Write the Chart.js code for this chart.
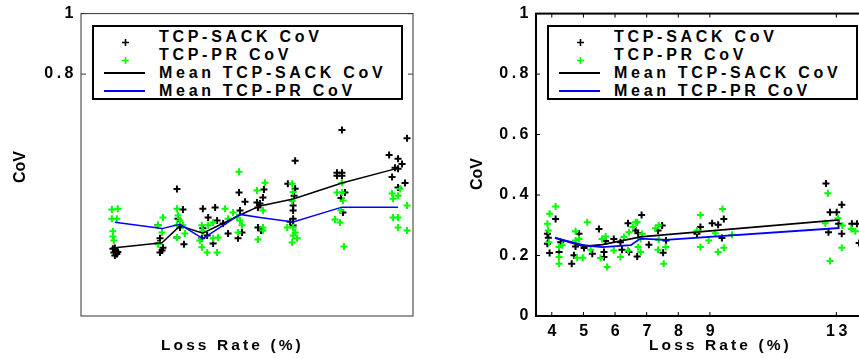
<!DOCTYPE html>
<html><head><meta charset="utf-8">
<script src="https://cdn.jsdelivr.net/npm/chart.js@4/dist/chart.umd.min.js"></script>
<style>
html,body{margin:0;padding:0;background:#fff;}
body{width:859px;height:358px;overflow:hidden;position:relative;font-family:"Liberation Sans",Arial,sans-serif;color:#000;}
.panel{position:absolute;top:0;width:430px;height:358px;}
.panel canvas{position:absolute;left:0;top:0;}
.legend{position:absolute;left:92px;top:25px;width:307px;height:71px;border:2px solid #000;background:#fff;}
.row{position:absolute;left:65px;height:16px;line-height:16px;font-weight:bold;font-size:16px;letter-spacing:3.7px;white-space:nowrap;}
.mk{position:absolute;left:27px;}
.ln{position:absolute;left:10px;width:41px;height:1.5px;}
.xt{position:absolute;top:337px;font-weight:bold;font-size:15.5px;line-height:15px;letter-spacing:3.1px;white-space:nowrap;}
.yt{position:absolute;font-weight:bold;font-size:16px;line-height:16px;white-space:nowrap;transform:translate(-50%,-50%) rotate(-90deg);}
</style>
</head><body>
<div class="panel" id="pL" style="left:0px"><canvas id="cL" width="430" height="358"></canvas></div>
<div class="panel" id="pR" style="left:455px"><canvas id="cR" width="430" height="358"></canvas></div>
<script>
// ---------- labels ----------
const seriesNames = ['TCP-SACK CoV','TCP-PR CoV','Mean TCP-SACK CoV','Mean TCP-PR CoV'];
const xTitle = 'Loss Rate (%)';
const yTitle = 'CoV';

// ---------- left panel (x axis unlabeled) ----------
const leftYTicks = [0.8, 1];
const leftSackX = [1.02,1.05,0.99,1.08,1.02,0.96,1.11, 2.32,2.38,2.32,2.44,2.38,2.47, 2.89,3.07,2.92,2.98,2.89,3.10, 3.67,4.04,3.83,4.10,3.67,3.80,3.98,3.64, 4.28,4.43,4.76,4.94,4.79,4.73,4.85, 5.51,5.48,5.39,5.33,5.33,5.30,5.42, 6.45,6.23,6.45,6.42,6.39,6.39,6.39,6.39,6.30, 7.86,7.71,7.86,7.71,7.86,7.95,7.89,7.83, 9.82,9.28,9.55,9.67,9.46,9.55,9.37,9.76,9.55];
const leftSackY = [0.225,0.215,0.21,0.205,0.20,0.222,0.212, 0.30,0.257,0.24,0.217,0.21,0.226, 0.42,0.352,0.322,0.293,0.26,0.237, 0.355,0.359,0.326,0.316,0.29,0.266,0.24,0.257, 0.306,0.273,0.408,0.378,0.349,0.257,0.276, 0.418,0.392,0.372,0.359,0.293,0.375,0.283, 0.513,0.437,0.421,0.398,0.365,0.349,0.322,0.299,0.312, 0.615,0.474,0.474,0.464,0.464,0.408,0.342,0.39, 0.588,0.532,0.52,0.503,0.49,0.487,0.46,0.44,0.425];
const leftPrX = [0.93,1.11,0.93,1.08,0.96,0.96,0.99, 2.47,2.32,2.44,2.32, 2.89,2.92,2.98,2.89,3.13,2.89,3.07, 3.64,3.67,3.58,3.64,3.80,4.10,3.98,4.13,3.83,3.98, 4.34,4.58,4.70,4.79,4.85,4.73,4.43,4.76, 5.54,5.30,5.48,5.48,5.48,5.33, 6.36,6.39,6.36,6.21,6.39,6.45,6.39,6.51,6.36, 7.86,7.71,7.86,7.89,7.65,7.80,7.92,7.83, 9.61,9.37,9.40,9.55,9.82,9.40,9.55,9.55,9.82];
const leftPrY = [0.352,0.355,0.322,0.322,0.28,0.263,0.25, 0.326,0.30,0.276,0.237, 0.355,0.332,0.316,0.30,0.273,0.26,0.30, 0.30,0.28,0.25,0.227,0.21,0.21,0.257,0.26,0.30,0.309, 0.355,0.342,0.326,0.316,0.30,0.276,0.322,0.477, 0.441,0.415,0.349,0.293,0.283,0.253, 0.437,0.41,0.38,0.293,0.293,0.276,0.266,0.257,0.243, 0.441,0.408,0.408,0.382,0.319,0.309,0.23,0.35, 0.421,0.405,0.388,0.398,0.365,0.326,0.326,0.293,0.283];
const leftMeanX = [1.02,2.44,2.98,3.67,4.79,5.39,6.39,7.86,9.55];
const leftMeanSack = [0.226,0.242,0.298,0.274,0.334,0.364,0.387,0.44,0.489];
const leftMeanPr = [0.31,0.289,0.303,0.256,0.336,0.326,0.311,0.36,0.36];

// ---------- right panel ----------
const rightXTicks = [4,5,6,7,8,9,13];
const rightYTicks = [0,0.2,0.4,0.6,0.8,1];
const rightSackX = [3.86,3.89,3.86,3.93,4.12,4.23,4.28,4.63,4.70,4.86,5.02,4.75,5.28,5.49,5.65,5.65,5.70,5.96,6.17,6.22,6.41,6.44,6.65,6.70,6.73,6.84,7.07,7.36,7.49,7.52,7.61,8.59,8.70,9.07,9.26,9.44,9.38,12.67,12.80,13.01,12.75,13.07,13.17,13.17,13.49,13.65,13.72];
const rightSackY = [0.272,0.259,0.239,0.208,0.321,0.212,0.244,0.173,0.201,0.272,0.225,0.23,0.206,0.288,0.195,0.212,0.248,0.255,0.244,0.219,0.307,0.212,0.283,0.197,0.274,0.334,0.236,0.283,0.299,0.209,0.25,0.272,0.294,0.307,0.302,0.321,0.258,0.438,0.343,0.343,0.277,0.305,0.368,0.272,0.305,0.305,0.241];
const rightPrX = [4.12,3.93,3.86,3.89,3.91,4.23,4.23,4.23,4.33,4.75,4.75,4.80,4.86,4.98,5.12,5.23,5.54,5.59,5.70,5.75,5.96,6.17,6.28,6.41,6.44,6.56,6.65,6.70,6.73,6.81,6.81,6.86,7.28,7.38,7.38,7.36,7.54,7.60,8.59,8.70,8.70,8.96,9.17,9.26,9.40,9.44,9.70,12.65,12.73,12.80,13.05,13.17,13.19,13.47,13.60];
const rightPrY = [0.362,0.338,0.305,0.283,0.244,0.228,0.195,0.173,0.234,0.28,0.25,0.193,0.255,0.193,0.31,0.219,0.192,0.255,0.263,0.162,0.217,0.195,0.261,0.217,0.277,0.294,0.31,0.31,0.228,0.255,0.212,0.272,0.29,0.30,0.252,0.219,0.173,0.228,0.283,0.334,0.228,0.25,0.274,0.212,0.354,0.226,0.269,0.307,0.406,0.182,0.323,0.226,0.299,0.288,0.28];
const rightMeanSackX = [4.1,5.0,5.6,6.5,6.8,13.1];
const rightMeanSack = [0.258,0.230,0.236,0.255,0.262,0.318];
const rightMeanPrX = [4.1,5.0,5.6,6.5,6.8,7.6,13.1];
const rightMeanPr = [0.258,0.234,0.228,0.234,0.256,0.252,0.291];

const zip = (xs, ys) => xs.map((x, i) => ({x: x, y: ys[i]}));
const FONT = 'Liberation Sans';
const LS = '3.5px';

const lsPlugin = {
  id: 'ls',
  beforeUpdate(c){ c.ctx.letterSpacing = LS; },
  beforeLayout(c){ c.ctx.letterSpacing = LS; },
  beforeDraw(c){ c.ctx.letterSpacing = LS; }
};

const framePlugin = {
  id: 'frame',
  afterDatasetsDraw(c, args, o){
    const ctx = c.ctx, a = c.chartArea;
    ctx.save();
    ctx.strokeStyle = o.color; ctx.lineWidth = o.width;
    ctx.strokeRect(a.left, a.top, a.right - a.left, a.bottom - a.top);
    ctx.lineWidth = o.tickWidth;
    ctx.beginPath();
    const ys = c.scales.y, xs = c.scales.x;
    for (const t of ys.ticks){
      const p = ys.getPixelForValue(t.value);
      ctx.moveTo(a.left, p); ctx.lineTo(a.left + o.len, p);
      ctx.moveTo(a.right, p); ctx.lineTo(a.right - o.len, p);
    }
    for (const t of xs.ticks){
      const p = xs.getPixelForValue(t.value);
      ctx.moveTo(p, a.bottom); ctx.lineTo(p, a.bottom - o.len);
      ctx.moveTo(p, a.top); ctx.lineTo(p, a.top + o.len);
    }
    ctx.stroke();
    ctx.restore();
  }
};

function makeChart(id, d){
  const tickFont = {family: FONT, size: 16, weight: 'bold'};
  return new Chart(document.getElementById(id), {
    type: 'scatter',
    data: { datasets: [
      {type:'line', label: seriesNames[3], data: zip(d.mpx, d.mpy), borderColor:'#0000ff', borderWidth: d.lw, pointRadius:0, showLine:true, fill:false, tension:0, order:0},
      {type:'line', label: seriesNames[2], data: zip(d.msx, d.msy), borderColor:'#000000', borderWidth: d.lw, pointRadius:0, showLine:true, fill:false, tension:0, order:1},
      {label: seriesNames[1], data: zip(d.px, d.py), pointStyle:'cross', pointRadius:3.5, pointBorderWidth:2, borderColor:'#00ff00', backgroundColor:'#00ff00', showLine:false, order:2},
      {label: seriesNames[0], data: zip(d.sx, d.sy), pointStyle:'cross', pointRadius:3.5, pointBorderWidth:2, borderColor:'#000000', backgroundColor:'#000000', showLine:false, order:3}
    ]},
    options: {
      responsive:false, animation:false, devicePixelRatio:1, events:[],
      layout:{padding:{left:0, right:17, top:12, bottom:0}},
      plugins:{legend:{display:false}, tooltip:{enabled:false},
        frame:{color:d.frameColor, width:d.frameWidth, tickWidth:1, len:d.tickLen}},
      scales:{
        x:{type:'linear', min:d.xmin, max:d.xmax,
           grid:{display:false, drawTicks:false}, border:{display:false},
           ticks:{display:d.xLabels, font:tickFont, color:'#000', padding:6, autoSkip:false, maxRotation:0, labelOffset:2,
                  callback: v => String(v)},
           afterBuildTicks: s => { s.ticks = d.xTicks.map(v => ({value:v})); },
           afterFit: s => { s.height = 42; }},
        y:{type:'linear', min:0, max:1,
           grid:{display:false, drawTicks:false}, border:{display:false},
           ticks:{font:tickFont, color:'#000', padding:4,
                  callback: v => String(+Number(v).toFixed(2))},
           afterBuildTicks: s => { s.ticks = d.yTicks.map(v => ({value:v})); },
           afterFit: s => { s.width = 81; }}
      }
    },
    plugins:[lsPlugin, framePlugin]
  });
}

makeChart('cL', {sx:leftSackX, sy:leftSackY, px:leftPrX, py:leftPrY, msx:leftMeanX, msy:leftMeanSack, mpx:leftMeanX, mpy:leftMeanPr,
  xmin:0, xmax:10, xTicks:[], yTicks:leftYTicks, xLabels:false, lw:1.5, frameColor:'#333', frameWidth:1, tickLen:5});
makeChart('cR', {sx:rightSackX, sy:rightSackY, px:rightPrX, py:rightPrY, msx:rightMeanSackX, msy:rightMeanSack, mpx:rightMeanPrX, mpy:rightMeanPr,
  xmin:3.5, xmax:14, xTicks:rightXTicks, yTicks:rightYTicks, xLabels:true, lw:1.8, frameColor:'#000', frameWidth:2, tickLen:4});

// ---------- HTML overlays: legends and axis titles ----------
function plusSvg(color){
  return '<svg width="9" height="9" viewBox="0 0 9 9"><path d="M4.5 1V8M1 4.5H8" stroke="' + color + '" stroke-width="1.6" fill="none"/></svg>';
}
function addOverlay(panelId, xtLeft, ytCx, ytCy){
  const p = document.getElementById(panelId);
  const lg = document.createElement('div');
  lg.className = 'legend';
  const centers = [10, 28, 46, 64];
  const kinds = [['plus','#000'],['plus','#00ff00'],['line','#000'],['line','#0000ff']];
  let html = '';
  for (let i = 0; i < 4; i++){
    const c = centers[i];
    if (kinds[i][0] === 'plus') html += '<div class="mk" style="top:' + (c - 4.5) + 'px">' + plusSvg(kinds[i][1]) + '</div>';
    else html += '<div class="ln" style="top:' + (c - 0.75) + 'px;background:' + kinds[i][1] + '"></div>';
    html += '<div class="row" style="top:' + (c - 8) + 'px">' + seriesNames[i] + '</div>';
  }
  lg.innerHTML = html;
  p.appendChild(lg);
  const xt = document.createElement('div');
  xt.className = 'xt'; xt.style.left = xtLeft + 'px'; xt.textContent = xTitle;
  p.appendChild(xt);
  const yt = document.createElement('div');
  yt.className = 'yt'; yt.style.left = ytCx + 'px'; yt.style.top = ytCy + 'px'; yt.textContent = yTitle;
  p.appendChild(yt);
}
addOverlay('pL', 161, 20, 167);
addOverlay('pR', 194, 22, 174);
</script>
</body></html>
